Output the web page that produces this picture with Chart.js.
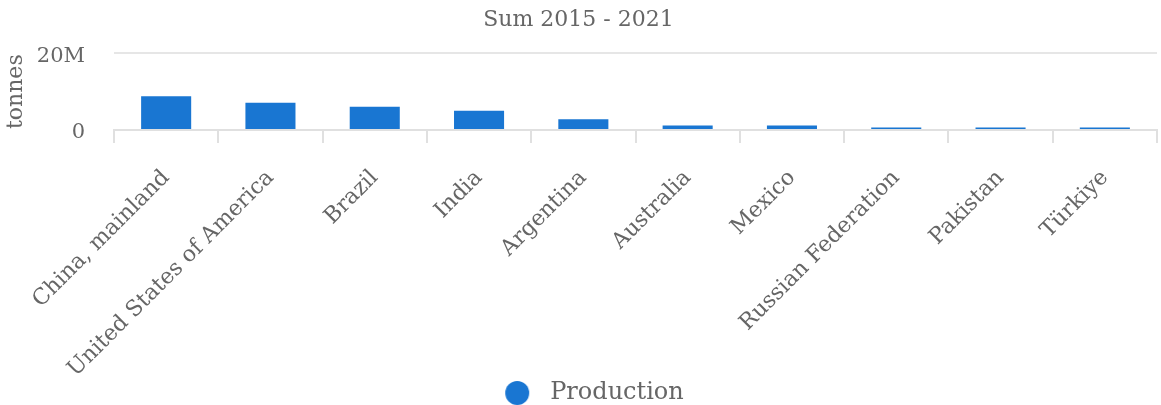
<!DOCTYPE html>
<html lang="en">
<head>
<meta charset="UTF-8">
<title>Production, Sum 2015 - 2021</title>
<script src="https://cdn.jsdelivr.net/npm/chart.js"></script>
<style>
    html, body { margin: 0; padding: 0; background: #fff; }
    #wrap { width: 1161px; height: 405px; }
</style>
</head>
<body>
<div id="wrap"><canvas id="chart"></canvas></div>
<script>
    // countries, summed production 2015-2021 (tonnes)
    const countries = ['China, mainland', 'United States of America', 'Brazil', 'India', 'Argentina',
                       'Australia', 'Mexico', 'Russian Federation', 'Pakistan', 'Türkiye'];
    const production = [8800000, 7100000, 6100000, 5000000, 2800000,
                        1200000, 1200000, 650000, 640000, 640000];
    const yTicks = [0, 20000000];

    const grey = '#666';
    const blue = '#1976d2';
    const font = 'DejaVu Serif';

    // legend marker: a dot with some room after it before the text
    const dot = document.createElement('canvas');
    dot.width = 65;
    dot.height = 24;
    const dctx = dot.getContext('2d');
    dctx.fillStyle = blue;
    dctx.beginPath();
    dctx.arc(44, 12, 12, 0, Math.PI * 2);
    dctx.fill();

    const noPadding = () => ({ left: 0, top: 0, right: 0, bottom: 0 });

    new Chart(document.getElementById('chart'), {
        type: 'bar',
        data: {
            labels: countries,
            datasets: [{
                label: 'Production',
                data: production,
                backgroundColor: blue,
                categoryPercentage: 0.8,
                barPercentage: 0.6
            }]
        },
        options: {
            responsive: true,
            maintainAspectRatio: false,
            animation: false,
            layout: { padding: { right: 4, left: 0, bottom: -10 } },
            plugins: {
                title: {
                    display: true,
                    text: 'Sum 2015 - 2021',
                    color: grey,
                    font: { family: font, size: 22, weight: 'normal' },
                    padding: { top: 7, bottom: 20 }
                },
                legend: {
                    position: 'bottom',
                    labels: {
                        usePointStyle: true,
                        pointStyle: dot,
                        pointStyleWidth: 65,
                        color: grey,
                        font: { family: font, size: 24 },
                        boxHeight: 24,
                        padding: 0
                    }
                },
                tooltip: { enabled: false }
            },
            scales: {
                x: {
                    grid: { drawOnChartArea: false, drawTicks: true, tickLength: 13, color: '#e0e0e0', lineWidth: 2 },
                    border: { color: '#e0e0e0', width: 2 },
                    ticks: { color: grey, font: { family: font, size: 22 }, maxRotation: 45, minRotation: 45, padding: 22 },
                    // long rotated labels: keep the axis tall enough and don't let it push the plot right
                    afterFit: axis => {
                        axis.height = 251;
                        axis.paddingLeft = 0;
                        axis.paddingRight = 0;
                        axis.getPadding = noPadding;
                    }
                },
                y: {
                    min: 0,
                    max: 20000000,
                    afterBuildTicks: axis => { axis.ticks = yTicks.map(v => ({ value: v })); },
                    afterFit: axis => { axis.width = 114; },
                    grid: { color: '#e6e6e6', lineWidth: 2, drawTicks: false },
                    border: { display: false },
                    title: { display: true, text: 'tonnes', color: grey, font: { family: font, size: 22 }, padding: { top: 3, bottom: 8 } },
                    ticks: {
                        color: grey,
                        font: { family: font, size: 21 },
                        padding: 29,
                        labelOffset: 3,
                        callback: v => v === 0 ? '0' : (v / 1000000) + 'M'
                    }
                }
            }
        }
    });
</script>
</body>
</html>
